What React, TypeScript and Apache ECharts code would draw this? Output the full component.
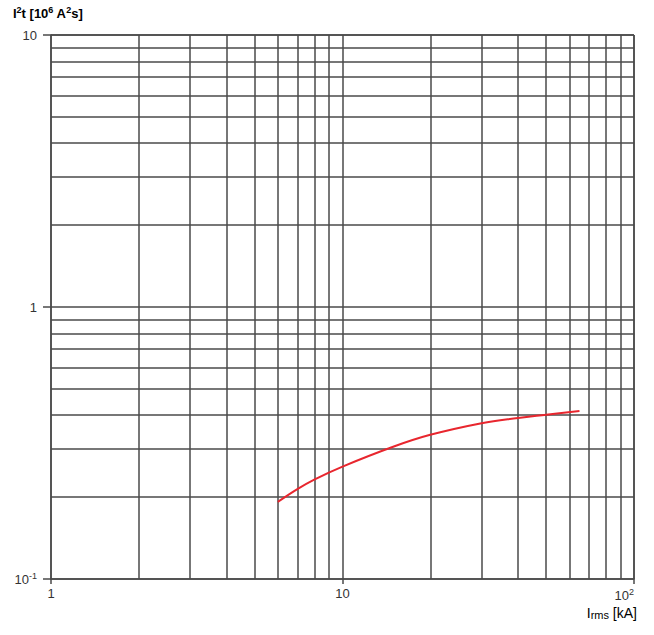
import React, { useEffect, useRef } from "react";
import * as echarts from "echarts";

const currentKA = [6, 7, 8, 10, 15, 20, 30, 40, 50, 65];
const i2tValues = [0.192, 0.214, 0.232, 0.259, 0.307, 0.339, 0.374, 0.391, 0.402, 0.415];
const xGridValues = [2, 3, 4, 5, 6, 7, 8, 9, 20, 30, 40, 50, 60, 70, 80, 90, 100];
const yGridValues = [0.2, 0.3, 0.4, 0.5, 0.6, 0.7, 0.8, 0.9, 2, 3, 4, 5, 6, 7, 8, 9, 10];

const FONT = "'Liberation Sans', Arial, Helvetica, sans-serif";
const GRID_COLOR = "#4a4a4a";

function powLabel(v: number): string {
  const e = Math.round(Math.log10(v));
  if (e === 0) return "1";
  if (e === 1) return "10";
  return "10{sup|" + (e < 0 ? "-" : "") + Math.abs(e) + "}";
}

const richLabel = {
  sup: { fontSize: 9, fontFamily: FONT, color: "#333", padding: [0, 0, 7, 0] },
};

export default function App() {
  const ref = useRef<HTMLDivElement>(null);
  useEffect(() => {
    if (!ref.current) return;
    const chart = echarts.init(ref.current, undefined, { renderer: "svg" });
    chart.setOption({
      animation: false,
      backgroundColor: "#ffffff",
      grid: { left: 51, right: 20, top: 35, bottom: 56, containLabel: false },
      xAxis: {
        type: "log",
        logBase: 10,
        min: 1,
        max: 100,
        axisLine: { show: true, lineStyle: { color: GRID_COLOR, width: 1.5 } },
        axisTick: { show: true, length: 5, lineStyle: { color: GRID_COLOR, width: 1.5 } },
        splitLine: { show: true, lineStyle: { color: GRID_COLOR, width: 1.5 } },
        axisLabel: {
          formatter: (v: number) => powLabel(v),
          fontSize: 13,
          fontFamily: FONT,
          color: "#333",
          margin: 8,
          rich: richLabel,
          alignMaxLabel: "right",
        },
      },
      yAxis: {
        type: "log",
        logBase: 10,
        min: 0.1,
        max: 10,
        axisLine: { show: true, lineStyle: { color: GRID_COLOR, width: 1.5 } },
        axisTick: { show: true, length: 8, lineStyle: { color: GRID_COLOR, width: 1.5 } },
        splitLine: { show: true, lineStyle: { color: GRID_COLOR, width: 1.5 } },
        axisLabel: {
          formatter: (v: number) => powLabel(v),
          fontSize: 13,
          fontFamily: FONT,
          color: "#333",
          margin: 14,
          rich: richLabel,
        },
      },
      graphic: [
        {
          type: "text",
          left: 13,
          top: 5,
          style: {
            text: "{b|I}{s|2}{b|t [10}{s|6}{b| A}{s|2}{b|s]}",
            rich: {
              b: { fontSize: 13, fontFamily: FONT, fontWeight: "bold", color: "#333" },
              s: { fontSize: 9, fontFamily: FONT, fontWeight: "bold", color: "#333", padding: [0, 0, 7, 0] },
            },
          },
        },
        {
          type: "text",
          right: 17,
          top: 606,
          style: {
            text: "{b|I}{s|rms}{b| [kA]}",
            rich: {
              b: { fontSize: 14, fontFamily: FONT, color: "#333" },
              s: { fontSize: 11, fontFamily: FONT, color: "#333", padding: [4, 0, 0, 0] },
            },
          },
        },
      ],
      series: [
        {
          type: "line",
          data: [],
          silent: true,
          z: 1,
          markLine: {
            silent: true,
            symbol: "none",
            label: { show: false },
            lineStyle: { color: GRID_COLOR, width: 1.5, type: "solid" },
            data: [
              ...xGridValues.map((v) => ({ xAxis: v })),
              ...yGridValues.map((v) => ({ yAxis: v })),
            ],
          },
        },
        {
          type: "line",
          z: 5,
          smooth: 0.4,
          showSymbol: false,
          symbol: "none",
          lineStyle: { color: "#e8262e", width: 2 },
          data: currentKA.map((x, i) => [x, i2tValues[i]]),
        },
      ],
    });
    return () => chart.dispose();
  }, []);
  return <div ref={ref} style={{ width: 654, height: 635, position: "absolute", left: 0, top: 0 }} />;
}
